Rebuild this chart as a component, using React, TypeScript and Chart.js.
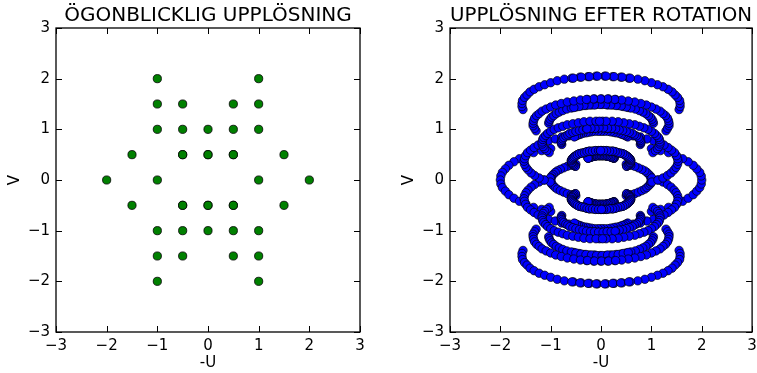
import React, { useEffect, useRef } from "react";
import { Chart, registerables } from "chart.js";

Chart.register(...registerables);

const FONT = "DejaVu Sans";

// ---- axis ticks ----
const tickValues = [-3, -2, -1, 0, 1, 2, 3];

// ---- left panel: instantaneous (snapshot) uv points ----
const snapU = [
  -1, 1,
  -1, -0.5, 0.5, 1,
  -1, -0.5, 0, 0.5, 1,
  -1.5, -0.5, -0.5, 0, 0, 0.5, 0.5, 1.5,
  -2, -1, 1, 2,
  -1.5, -0.5, -0.5, 0, 0, 0.5, 0.5, 1.5,
  -1, -0.5, 0, 0.5, 1,
  -1, -0.5, 0.5, 1,
  -1, 1,
];
const snapV = [
  2, 2,
  1.5, 1.5, 1.5, 1.5,
  1, 1, 1, 1, 1,
  0.5, 0.5, 0.5, 0.5, 0.5, 0.5, 0.5, 0.5,
  0, 0, 0, 0,
  -0.5, -0.5, -0.5, -0.5, -0.5, -0.5, -0.5, -0.5,
  -1, -1, -1, -1, -1,
  -1.5, -1.5, -1.5, -1.5,
  -2, -2,
];

// ---- right panel: tracks after rotation, one array per baseline ----
type P = [number, number];
const rotP1P2: P[] = [[1.55,1.39],[1.57,1.45],[1.57,1.51],[1.56,1.57],[1.52,1.63],[1.47,1.68],[1.41,1.74],[1.33,1.79],[1.23,1.84],[1.12,1.88],[1,1.92],[0.87,1.96],[0.73,1.99],[0.58,2.01],[0.42,2.03],[0.26,2.04],[0.10,2.05],[-0.07,2.05],[-0.23,2.04],[-0.39,2.03],[-0.55,2.01]];
const rotM1P2: P[] = [[-1.55,1.39],[-1.57,1.45],[-1.57,1.51],[-1.56,1.57],[-1.52,1.63],[-1.47,1.68],[-1.41,1.74],[-1.33,1.79],[-1.23,1.84],[-1.12,1.88],[-1,1.92],[-0.87,1.96],[-0.73,1.99],[-0.58,2.01],[-0.42,2.03],[-0.26,2.04],[-0.10,2.05],[0.07,2.05],[0.23,2.04],[0.39,2.03],[0.55,2.01]];
const rotM1M2: P[] = [[-1.55,-1.39],[-1.57,-1.45],[-1.57,-1.51],[-1.56,-1.57],[-1.52,-1.63],[-1.47,-1.68],[-1.41,-1.74],[-1.33,-1.79],[-1.23,-1.84],[-1.12,-1.88],[-1,-1.92],[-0.87,-1.96],[-0.73,-1.99],[-0.58,-2.01],[-0.42,-2.03],[-0.26,-2.04],[-0.10,-2.05],[0.07,-2.05],[0.23,-2.04],[0.39,-2.03],[0.55,-2.01]];
const rotP1M2: P[] = [[1.55,-1.39],[1.57,-1.45],[1.57,-1.51],[1.56,-1.57],[1.52,-1.63],[1.47,-1.68],[1.41,-1.74],[1.33,-1.79],[1.23,-1.84],[1.12,-1.88],[1,-1.92],[0.87,-1.96],[0.73,-1.99],[0.58,-2.01],[0.42,-2.03],[0.26,-2.04],[0.10,-2.05],[-0.07,-2.05],[-0.23,-2.04],[-0.39,-2.03],[-0.55,-2.01]];

const rotP1P15: P[] = [[1.29,0.97],[1.32,1.02],[1.35,1.07],[1.35,1.12],[1.34,1.17],[1.32,1.22],[1.28,1.27],[1.23,1.31],[1.17,1.36],[1.09,1.40],[1,1.44],[0.90,1.48],[0.79,1.51],[0.67,1.54],[0.54,1.56],[0.41,1.58],[0.27,1.59],[0.13,1.60],[-0.01,1.60],[-0.15,1.60],[-0.29,1.59]];
const rotM1P15: P[] = [[-1.29,0.97],[-1.32,1.02],[-1.35,1.07],[-1.35,1.12],[-1.34,1.17],[-1.32,1.22],[-1.28,1.27],[-1.23,1.31],[-1.17,1.36],[-1.09,1.40],[-1,1.44],[-0.90,1.48],[-0.79,1.51],[-0.67,1.54],[-0.54,1.56],[-0.41,1.58],[-0.27,1.59],[-0.13,1.60],[0.01,1.60],[0.15,1.60],[0.29,1.59]];
const rotM1M15: P[] = [[-1.29,-0.97],[-1.32,-1.02],[-1.35,-1.07],[-1.35,-1.12],[-1.34,-1.17],[-1.32,-1.22],[-1.28,-1.27],[-1.23,-1.31],[-1.17,-1.36],[-1.09,-1.40],[-1,-1.44],[-0.90,-1.48],[-0.79,-1.51],[-0.67,-1.54],[-0.54,-1.56],[-0.41,-1.58],[-0.27,-1.59],[-0.13,-1.60],[0.01,-1.60],[0.15,-1.60],[0.29,-1.59]];
const rotP1M15: P[] = [[1.29,-0.97],[1.32,-1.02],[1.35,-1.07],[1.35,-1.12],[1.34,-1.17],[1.32,-1.22],[1.28,-1.27],[1.23,-1.31],[1.17,-1.36],[1.09,-1.40],[1,-1.44],[0.90,-1.48],[0.79,-1.51],[0.67,-1.54],[0.54,-1.56],[0.41,-1.58],[0.27,-1.59],[0.13,-1.60],[-0.01,-1.60],[-0.15,-1.60],[-0.29,-1.59]];

const rotP05P15: P[] = [[1.04,1.12],[1.03,1.16],[1.01,1.20],[0.98,1.24],[0.94,1.27],[0.89,1.31],[0.83,1.34],[0.76,1.37],[0.68,1.40],[0.59,1.42],[0.50,1.44],[0.40,1.46],[0.30,1.47],[0.19,1.48],[0.09,1.49],[-0.02,1.49],[-0.13,1.48],[-0.24,1.48],[-0.34,1.47],[-0.44,1.45],[-0.54,1.43]];
const rotM05P15: P[] = [[-1.04,1.12],[-1.03,1.16],[-1.01,1.20],[-0.98,1.24],[-0.94,1.27],[-0.89,1.31],[-0.83,1.34],[-0.76,1.37],[-0.68,1.40],[-0.59,1.42],[-0.50,1.44],[-0.40,1.46],[-0.30,1.47],[-0.19,1.48],[-0.09,1.49],[0.02,1.49],[0.13,1.48],[0.24,1.48],[0.34,1.47],[0.44,1.45],[0.54,1.43]];
const rotM05M15: P[] = [[-1.04,-1.12],[-1.03,-1.16],[-1.01,-1.20],[-0.98,-1.24],[-0.94,-1.27],[-0.89,-1.31],[-0.83,-1.34],[-0.76,-1.37],[-0.68,-1.40],[-0.59,-1.42],[-0.50,-1.44],[-0.40,-1.46],[-0.30,-1.47],[-0.19,-1.48],[-0.09,-1.49],[0.02,-1.49],[0.13,-1.48],[0.24,-1.48],[0.34,-1.47],[0.44,-1.45],[0.54,-1.43]];
const rotP05M15: P[] = [[1.04,-1.12],[1.03,-1.16],[1.01,-1.20],[0.98,-1.24],[0.94,-1.27],[0.89,-1.31],[0.83,-1.34],[0.76,-1.37],[0.68,-1.40],[0.59,-1.42],[0.50,-1.44],[0.40,-1.46],[0.30,-1.47],[0.19,-1.48],[0.09,-1.49],[-0.02,-1.49],[-0.13,-1.48],[-0.24,-1.48],[-0.34,-1.47],[-0.44,-1.45],[-0.54,-1.43]];

const rotP1P1: P[] = [[1.03,0.54],[1.08,0.58],[1.12,0.62],[1.15,0.66],[1.17,0.71],[1.17,0.75],[1.16,0.80],[1.14,0.84],[1.10,0.88],[1.06,0.92],[1,0.96],[0.93,1.00],[0.85,1.03],[0.76,1.06],[0.67,1.09],[0.56,1.11],[0.45,1.13],[0.34,1.15],[0.22,1.16],[0.10,1.16],[-0.03,1.16]];
const rotM1P1: P[] = [[-1.03,0.54],[-1.08,0.58],[-1.12,0.62],[-1.15,0.66],[-1.17,0.71],[-1.17,0.75],[-1.16,0.80],[-1.14,0.84],[-1.10,0.88],[-1.06,0.92],[-1,0.96],[-0.93,1.00],[-0.85,1.03],[-0.76,1.06],[-0.67,1.09],[-0.56,1.11],[-0.45,1.13],[-0.34,1.15],[-0.22,1.16],[-0.10,1.16],[0.03,1.16]];
const rotM1M1: P[] = [[-1.03,-0.54],[-1.08,-0.58],[-1.12,-0.62],[-1.15,-0.66],[-1.17,-0.71],[-1.17,-0.75],[-1.16,-0.80],[-1.14,-0.84],[-1.10,-0.88],[-1.06,-0.92],[-1,-0.96],[-0.93,-1.00],[-0.85,-1.03],[-0.76,-1.06],[-0.67,-1.09],[-0.56,-1.11],[-0.45,-1.13],[-0.34,-1.15],[-0.22,-1.16],[-0.10,-1.16],[0.03,-1.16]];
const rotP1M1: P[] = [[1.03,-0.54],[1.08,-0.58],[1.12,-0.62],[1.15,-0.66],[1.17,-0.71],[1.17,-0.75],[1.16,-0.80],[1.14,-0.84],[1.10,-0.88],[1.06,-0.92],[1,-0.96],[0.93,-1.00],[0.85,-1.03],[0.76,-1.06],[0.67,-1.09],[0.56,-1.11],[0.45,-1.13],[0.34,-1.15],[0.22,-1.16],[0.10,-1.16],[-0.03,-1.16]];

const rotP05P1: P[] = [[0.78,0.70],[0.79,0.73],[0.79,0.75],[0.78,0.78],[0.76,0.81],[0.74,0.84],[0.70,0.87],[0.66,0.89],[0.62,0.92],[0.56,0.94],[0.50,0.96],[0.43,0.98],[0.36,0.99],[0.29,1.01],[0.21,1.02],[0.13,1.02],[0.05,1.03],[-0.04,1.03],[-0.12,1.02],[-0.20,1.02],[-0.28,1.01]];
const rotM05P1: P[] = [[-0.78,0.70],[-0.79,0.73],[-0.79,0.75],[-0.78,0.78],[-0.76,0.81],[-0.74,0.84],[-0.70,0.87],[-0.66,0.89],[-0.62,0.92],[-0.56,0.94],[-0.50,0.96],[-0.43,0.98],[-0.36,0.99],[-0.29,1.01],[-0.21,1.02],[-0.13,1.02],[-0.05,1.03],[0.04,1.03],[0.12,1.02],[0.20,1.02],[0.28,1.01]];
const rotM05M1: P[] = [[-0.78,-0.70],[-0.79,-0.73],[-0.79,-0.75],[-0.78,-0.78],[-0.76,-0.81],[-0.74,-0.84],[-0.70,-0.87],[-0.66,-0.89],[-0.62,-0.92],[-0.56,-0.94],[-0.50,-0.96],[-0.43,-0.98],[-0.36,-0.99],[-0.29,-1.01],[-0.21,-1.02],[-0.13,-1.02],[-0.05,-1.03],[0.04,-1.03],[0.12,-1.02],[0.20,-1.02],[0.28,-1.01]];
const rotP05M1: P[] = [[0.78,-0.70],[0.79,-0.73],[0.79,-0.75],[0.78,-0.78],[0.76,-0.81],[0.74,-0.84],[0.70,-0.87],[0.66,-0.89],[0.62,-0.92],[0.56,-0.94],[0.50,-0.96],[0.43,-0.98],[0.36,-0.99],[0.29,-1.01],[0.21,-1.02],[0.13,-1.02],[0.05,-1.03],[-0.04,-1.03],[-0.12,-1.02],[-0.20,-1.02],[-0.28,-1.01]];

const rot0P1: P[] = [[0.53,0.85],[0.49,0.87],[0.45,0.89],[0.41,0.90],[0.36,0.92],[0.30,0.93],[0.25,0.94],[0.19,0.95],[0.13,0.96],[0.06,0.96],[0,0.96],[-0.06,0.96],[-0.13,0.96],[-0.19,0.95],[-0.25,0.94],[-0.30,0.93],[-0.36,0.92],[-0.41,0.90],[-0.45,0.89],[-0.49,0.87],[-0.53,0.85]];
const rot0M1: P[] = [[0.53,-0.85],[0.49,-0.87],[0.45,-0.89],[0.41,-0.90],[0.36,-0.92],[0.30,-0.93],[0.25,-0.94],[0.19,-0.95],[0.13,-0.96],[0.06,-0.96],[0,-0.96],[-0.06,-0.96],[-0.13,-0.96],[-0.19,-0.95],[-0.25,-0.94],[-0.30,-0.93],[-0.36,-0.92],[-0.41,-0.90],[-0.45,-0.89],[-0.49,-0.87],[-0.53,-0.85]];

const rotP15P05: P[] = [[1.01,-0.04],[1.13,0],[1.23,0.04],[1.32,0.09],[1.39,0.14],[1.45,0.20],[1.49,0.25],[1.52,0.31],[1.53,0.37],[1.52,0.42],[1.50,0.48],[1.46,0.54],[1.40,0.59],[1.33,0.64],[1.25,0.69],[1.15,0.74],[1.04,0.78],[0.91,0.81],[0.78,0.85],[0.64,0.87],[0.49,0.89]];
const rotM15P05: P[] = [[-1.01,-0.04],[-1.13,0],[-1.23,0.04],[-1.32,0.09],[-1.39,0.14],[-1.45,0.20],[-1.49,0.25],[-1.52,0.31],[-1.53,0.37],[-1.52,0.42],[-1.50,0.48],[-1.46,0.54],[-1.40,0.59],[-1.33,0.64],[-1.25,0.69],[-1.15,0.74],[-1.04,0.78],[-0.91,0.81],[-0.78,0.85],[-0.64,0.87],[-0.49,0.89]];
const rotM15M05: P[] = [[-1.01,0.04],[-1.13,0],[-1.23,-0.04],[-1.32,-0.09],[-1.39,-0.14],[-1.45,-0.20],[-1.49,-0.25],[-1.52,-0.31],[-1.53,-0.37],[-1.52,-0.42],[-1.50,-0.48],[-1.46,-0.54],[-1.40,-0.59],[-1.33,-0.64],[-1.25,-0.69],[-1.15,-0.74],[-1.04,-0.78],[-0.91,-0.81],[-0.78,-0.85],[-0.64,-0.87],[-0.49,-0.89]];
const rotP15M05: P[] = [[1.01,0.04],[1.13,0],[1.23,-0.04],[1.32,-0.09],[1.39,-0.14],[1.45,-0.20],[1.49,-0.25],[1.52,-0.31],[1.53,-0.37],[1.52,-0.42],[1.50,-0.48],[1.46,-0.54],[1.40,-0.59],[1.33,-0.64],[1.25,-0.69],[1.15,-0.74],[1.04,-0.78],[0.91,-0.81],[0.78,-0.85],[0.64,-0.87],[0.49,-0.89]];

const rotP05P05: P[] = [[0.51,0.27],[0.54,0.29],[0.56,0.31],[0.58,0.33],[0.58,0.35],[0.59,0.38],[0.58,0.40],[0.57,0.42],[0.55,0.44],[0.53,0.46],[0.50,0.48],[0.47,0.50],[0.43,0.52],[0.38,0.53],[0.33,0.54],[0.28,0.56],[0.23,0.57],[0.17,0.57],[0.11,0.58],[0.05,0.58],[-0.01,0.58]];
const rotM05P05: P[] = [[-0.51,0.27],[-0.54,0.29],[-0.56,0.31],[-0.58,0.33],[-0.58,0.35],[-0.59,0.38],[-0.58,0.40],[-0.57,0.42],[-0.55,0.44],[-0.53,0.46],[-0.50,0.48],[-0.47,0.50],[-0.43,0.52],[-0.38,0.53],[-0.33,0.54],[-0.28,0.56],[-0.23,0.57],[-0.17,0.57],[-0.11,0.58],[-0.05,0.58],[0.01,0.58]];
const rotM05M05: P[] = [[-0.51,-0.27],[-0.54,-0.29],[-0.56,-0.31],[-0.58,-0.33],[-0.58,-0.35],[-0.59,-0.38],[-0.58,-0.40],[-0.57,-0.42],[-0.55,-0.44],[-0.53,-0.46],[-0.50,-0.48],[-0.47,-0.50],[-0.43,-0.52],[-0.38,-0.53],[-0.33,-0.54],[-0.28,-0.56],[-0.23,-0.57],[-0.17,-0.57],[-0.11,-0.58],[-0.05,-0.58],[0.01,-0.58]];
const rotP05M05: P[] = [[0.51,-0.27],[0.54,-0.29],[0.56,-0.31],[0.58,-0.33],[0.58,-0.35],[0.59,-0.38],[0.58,-0.40],[0.57,-0.42],[0.55,-0.44],[0.53,-0.46],[0.50,-0.48],[0.47,-0.50],[0.43,-0.52],[0.38,-0.53],[0.33,-0.54],[0.28,-0.56],[0.23,-0.57],[0.17,-0.57],[0.11,-0.58],[0.05,-0.58],[-0.01,-0.58]];

const rot0P05: P[] = [[0.26,0.43],[0.25,0.44],[0.23,0.44],[0.20,0.45],[0.18,0.46],[0.15,0.47],[0.12,0.47],[0.09,0.48],[0.06,0.48],[0.03,0.48],[0,0.48],[-0.03,0.48],[-0.06,0.48],[-0.09,0.48],[-0.12,0.47],[-0.15,0.47],[-0.18,0.46],[-0.20,0.45],[-0.23,0.44],[-0.25,0.44],[-0.26,0.43]];
const rot0M05: P[] = [[0.26,-0.43],[0.25,-0.44],[0.23,-0.44],[0.20,-0.45],[0.18,-0.46],[0.15,-0.47],[0.12,-0.47],[0.09,-0.48],[0.06,-0.48],[0.03,-0.48],[0,-0.48],[-0.03,-0.48],[-0.06,-0.48],[-0.09,-0.48],[-0.12,-0.47],[-0.15,-0.47],[-0.18,-0.46],[-0.20,-0.45],[-0.23,-0.44],[-0.25,-0.44],[-0.26,-0.43]];

const rotP1P0: P[] = [[0.50,-0.31],[0.59,-0.29],[0.67,-0.27],[0.74,-0.24],[0.81,-0.21],[0.87,-0.18],[0.91,-0.15],[0.95,-0.11],[0.98,-0.08],[0.99,-0.04],[1,0],[0.99,0.04],[0.98,0.08],[0.95,0.11],[0.91,0.15],[0.87,0.18],[0.81,0.21],[0.74,0.24],[0.67,0.27],[0.59,0.29],[0.50,0.31]];
const rotM1P0: P[] = [[-0.50,0.31],[-0.59,0.29],[-0.67,0.27],[-0.74,0.24],[-0.81,0.21],[-0.87,0.18],[-0.91,0.15],[-0.95,0.11],[-0.98,0.08],[-0.99,0.04],[-1,0],[-0.99,-0.04],[-0.98,-0.08],[-0.95,-0.11],[-0.91,-0.15],[-0.87,-0.18],[-0.81,-0.21],[-0.74,-0.24],[-0.67,-0.27],[-0.59,-0.29],[-0.50,-0.31]];

const rotP2P0: P[] = [[1,-0.62],[1.18,-0.58],[1.34,-0.54],[1.49,-0.48],[1.62,-0.42],[1.73,-0.36],[1.83,-0.29],[1.90,-0.22],[1.96,-0.15],[1.99,-0.08],[2,0],[1.99,0.08],[1.96,0.15],[1.90,0.22],[1.83,0.29],[1.73,0.36],[1.62,0.42],[1.49,0.48],[1.34,0.54],[1.18,0.58],[1,0.62]];
const rotM2P0: P[] = [[-1,0.62],[-1.18,0.58],[-1.34,0.54],[-1.49,0.48],[-1.62,0.42],[-1.73,0.36],[-1.83,0.29],[-1.90,0.22],[-1.96,0.15],[-1.99,0.08],[-2,0],[-1.99,-0.08],[-1.96,-0.15],[-1.90,-0.22],[-1.83,-0.29],[-1.73,-0.36],[-1.62,-0.42],[-1.49,-0.48],[-1.34,-0.54],[-1.18,-0.58],[-1,-0.62]];

// every baseline of the array (duplicated baselines appear twice, as in the snapshot)
const rotationTracks: P[][] = [
  rotP1P2, rotM1P2, rotM1M2, rotP1M2,
  rotP1P15, rotM1P15, rotM1M15, rotP1M15,
  rotP05P15, rotM05P15, rotM05M15, rotP05M15,
  rotP1P1, rotM1P1, rotM1M1, rotP1M1,
  rotP05P1, rotM05P1, rotM05M1, rotP05M1,
  rot0P1, rot0M1,
  rotP15P05, rotM15P05, rotM15M05, rotP15M05,
  rotP05P05, rotP05P05, rotM05P05, rotM05P05,
  rotM05M05, rotM05M05, rotP05M05, rotP05M05,
  rot0P05, rot0P05, rot0M05, rot0M05,
  rotP1P0, rotM1P0, rotP2P0, rotM2P0,
];

const TICK_LEN = 6;

const fmt = (v: number) => (v < 0 ? "\u2212" + Math.abs(v) : String(v));

const frameTicks = {
  id: "frameTicks",
  afterDraw(chart: any) {
    const { ctx, chartArea } = chart;
    const { left, right, top, bottom } = chartArea;
    const xs = chart.scales.x;
    const ys = chart.scales.y;
    ctx.save();
    ctx.strokeStyle = "#000";
    ctx.lineWidth = 1;
    ctx.beginPath();
    tickValues.forEach((t) => {
      const px = Math.round(xs.getPixelForValue(t)) + 0.5;
      ctx.moveTo(px, bottom);
      ctx.lineTo(px, bottom - TICK_LEN);
      ctx.moveTo(px, top);
      ctx.lineTo(px, top + TICK_LEN);
      const py = Math.round(ys.getPixelForValue(t)) + 0.5;
      ctx.moveTo(left, py);
      ctx.lineTo(left + TICK_LEN, py);
      ctx.moveTo(right, py);
      ctx.lineTo(right - TICK_LEN, py);
    });
    ctx.stroke();
    ctx.lineWidth = 1.3;
    ctx.strokeRect(left, top, right - left, bottom - top);
    ctx.restore();
  },
};

function makeOptions(title: string, padRight: number) {
  return {
    animation: false,
    responsive: false,
    devicePixelRatio: 1,
    layout: { padding: { left: 0, right: padRight, top: 0, bottom: 0 } },
    plugins: {
      legend: { display: false },
      tooltip: { enabled: false },
      title: {
        display: true,
        text: title,
        fullSize: false,
        color: "#000",
        font: { family: FONT, size: 20, weight: "normal" },
        padding: { top: 4, bottom: 0 },
      },
    },
    scales: {
      x: {
        type: "linear",
        min: -3,
        max: 3,
        afterBuildTicks: (scale: any) => {
          scale.ticks = tickValues.map((v) => ({ value: v }));
        },
        afterFit: (scale: any) => {
          scale.height = 41;
          scale.paddingLeft = 0;
          scale.paddingRight = 0;
        },
        ticks: {
          autoSkip: false,
          maxRotation: 0,
          padding: 5,
          color: "#000",
          font: { family: FONT, size: 15 },
          callback: (v: any) => fmt(Number(v)),
        },
        grid: { display: false, drawTicks: false },
        border: { display: false },
        title: {
          display: true,
          text: "-U",
          color: "#000",
          font: { family: FONT, size: 15 },
          padding: { top: 0, bottom: 1 },
        },
      },
      y: {
        type: "linear",
        min: -3,
        max: 3,
        afterBuildTicks: (scale: any) => {
          scale.ticks = tickValues.map((v) => ({ value: v }));
        },
        afterFit: (scale: any) => {
          scale.width = 56;
          scale.paddingTop = 0;
          scale.paddingBottom = 0;
        },
        ticks: {
          autoSkip: false,
          padding: 6,
          color: "#000",
          font: { family: FONT, size: 15 },
          callback: (v: any) => fmt(Number(v)),
        },
        grid: { display: false, drawTicks: false },
        border: { display: false },
        title: {
          display: true,
          text: "V",
          color: "#000",
          font: { family: FONT, size: 15 },
          padding: { top: 6, bottom: 0 },
        },
      },
    },
  };
}

export default function App() {
  const leftRef = useRef<HTMLCanvasElement>(null);
  const rightRef = useRef<HTMLCanvasElement>(null);

  useEffect(() => {
    const left = new Chart(leftRef.current as HTMLCanvasElement, {
      type: "scatter",
      data: {
        datasets: [
          {
            data: snapU.map((u, i) => ({ x: u, y: snapV[i] })),
            backgroundColor: "#008000",
            borderColor: "#000",
            borderWidth: 0.8,
            pointRadius: 4.1,
          },
        ],
      },
      options: makeOptions("ÖGONBLICKLIG UPPLÖSNING", 18) as any,
      plugins: [frameTicks],
    });
    const right = new Chart(rightRef.current as HTMLCanvasElement, {
      type: "scatter",
      data: {
        datasets: rotationTracks.map((track) => ({
          data: track.map(([u, v]) => ({ x: u, y: v })),
          backgroundColor: "#0000ff",
          borderColor: "#000",
          borderWidth: 0.7,
          pointRadius: 4.2,
        })),
      },
      options: makeOptions("UPPLÖSNING EFTER ROTATION", 3) as any,
      plugins: [frameTicks],
    });
    return () => {
      left.destroy();
      right.destroy();
    };
  }, []);

  return (
    <div style={{ position: "fixed", left: 0, top: 0, width: 757, height: 373, background: "#fff", overflow: "hidden" }}>
      <canvas ref={leftRef} width={378} height={373} style={{ position: "absolute", left: 0, top: 0, width: 378, height: 373 }} />
      <canvas ref={rightRef} width={363} height={373} style={{ position: "absolute", left: 394, top: 0, width: 363, height: 373 }} />
    </div>
  );
}
